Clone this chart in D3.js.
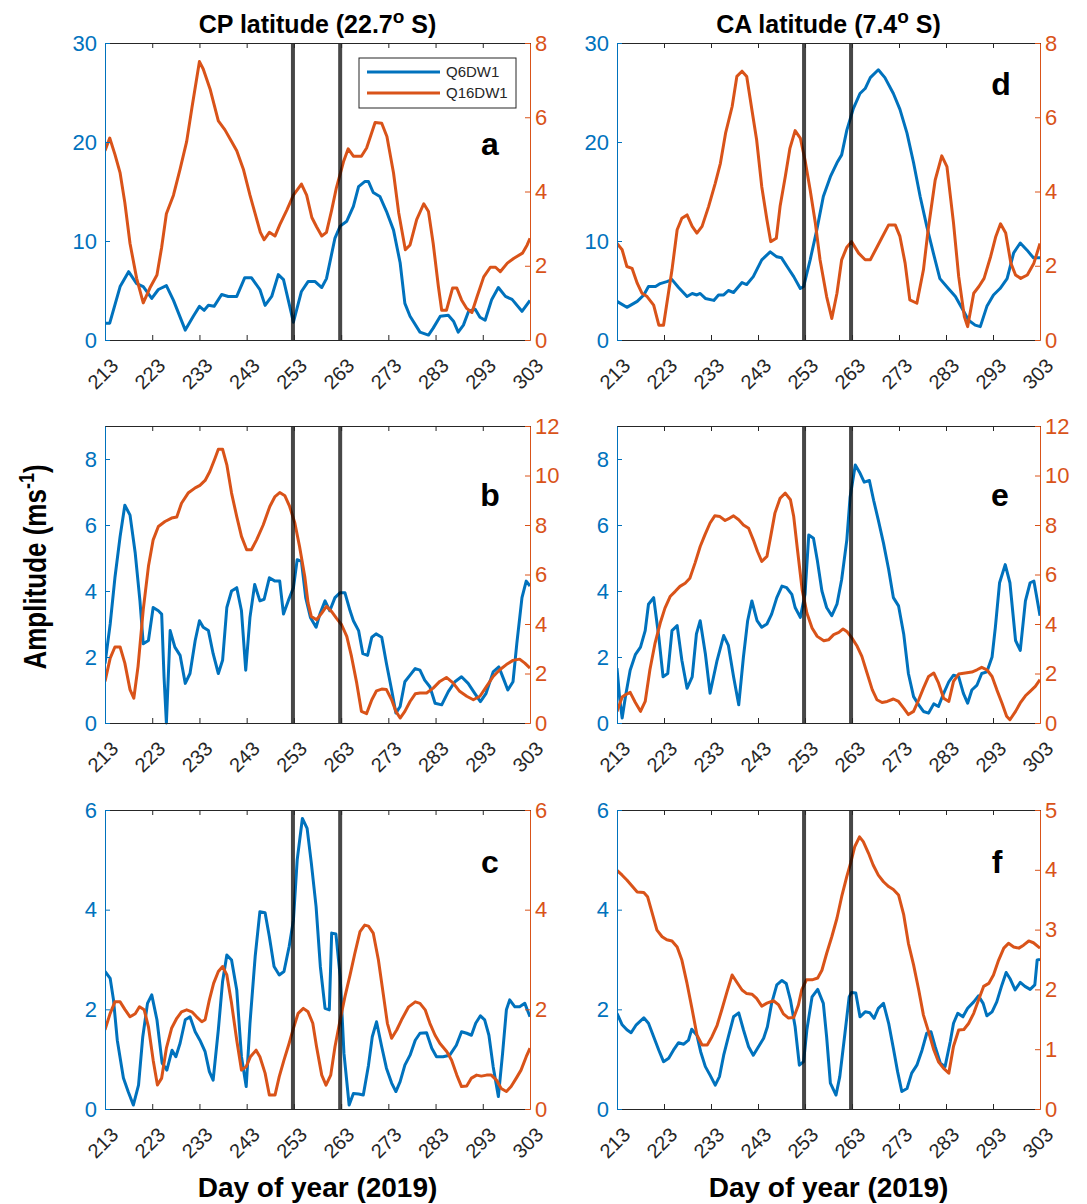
<!DOCTYPE html>
<html>
<head>
<meta charset="utf-8">
<script src="https://cdn.jsdelivr.net/npm/d3@7"></script>
<style>
  body { margin: 0; background: #fff; }
  text { font-family: "Liberation Sans", Arial, Helvetica, sans-serif; }
</style>
</head>
<body>
<svg id="chart"></svg>
<script>
/* CONSTANTS AND GLOBALS */
const width = 1087, height = 1204;
const BLUE = "#0072BD", ORANGE = "#D95319", AXIS = "#262626";

// tick labels and markers
const xTicks = [213, 223, 233, 243, 253, 263, 273, 283, 293, 303];
const eventDays = [252.8, 262.8];
const seriesNames = ["Q6DW1", "Q16DW1"];
const columnTitles = [["CP latitude (22.7", " S)"], ["CA latitude (7.4", " S)"]];

// [day, amplitude]
// panel a (CP, top)
const q6_a = [[213,1.7],[214,1.7],[216.2,5.4],[218,6.9],[219.7,5.7],[221.1,5.4],[222.9,4.2],[224.3,5.1],[226,5.5],[227.5,4.0],[230,1.0],[231.7,2.4],[233,3.4],[234,3.0],[234.9,3.5],[236.1,3.4],[237.7,4.6],[239.1,4.4],[240.9,4.4],[242.6,6.3],[244,6.3],[245.8,5.1],[246.9,3.5],[248.3,4.4],[249.7,6.6],[250.8,6.1],[252.9,1.8],[254.6,4.9],[256,5.9],[257.5,5.9],[258.9,5.3],[259.9,6.2],[261.7,10.3],[262.8,11.5],[264.2,12],[265.6,13.5],[266.7,15.5],[268,16.0],[268.8,16],[269.8,14.9],[271.2,14.5],[272.6,13],[274.1,11.1],[275.5,7.8],[276.5,3.7],[277.6,2.4],[279.7,0.8],[281.5,0.5],[282.5,1.2],[284,2.4],[285.7,2.5],[286.8,1.9],[287.8,0.8],[288.9,1.5],[290,2.9],[291.4,3.1],[292.4,2.3],[293.5,2.0],[294.9,4.1],[296.3,5.3],[297.8,4.4],[299.2,4.1],[301.3,2.9],[303,4.0]];
const q16_a = [[213,5.1],[214,5.44],[215.1,5.0],[216.2,4.5],[217.2,3.7],[218.3,2.6],[219.7,1.66],[221.1,1.0],[222.5,1.4],[224,1.75],[225,2.5],[226,3.4],[227.5,3.9],[228.9,4.6],[230.3,5.35],[231.4,6.25],[233,7.5],[233.8,7.3],[235.3,6.74],[237,5.9],[238.4,5.66],[239.8,5.35],[240.9,5.1],[242.3,4.6],[243.7,3.9],[245.9,2.9],[246.7,2.7],[247.8,2.9],[249,2.8],[250,3.1],[251.5,3.5],[252.9,3.9],[254.6,4.2],[255.7,3.9],[256.8,3.3],[257.8,3.05],[258.9,2.8],[259.9,2.9],[261,3.5],[262,4.1],[263.5,4.8],[264.5,5.15],[265.6,4.95],[267.3,4.95],[268.4,5.17],[270.2,5.86],[271.6,5.84],[272.7,5.48],[274.1,4.5],[275.2,3.42],[276.6,2.43],[277.6,2.56],[279,3.24],[280.5,3.67],[281.5,3.46],[282.5,2.6],[283.6,1.44],[284.3,0.8],[285.3,0.8],[286.6,1.4],[287.5,1.4],[288.5,1.08],[289.6,0.85],[290.7,0.74],[291.8,1.17],[293.2,1.7],[294.6,1.96],[295.7,1.96],[296.7,1.84],[298.2,2.07],[299.6,2.2],[301.4,2.34],[302.4,2.56],[303,2.74]];

// panel d (CA, top)
const q6_d = [[213,3.9],[215.1,3.3],[217.3,3.9],[218.7,4.55],[219.7,5.4],[221.2,5.4],[222.2,5.7],[223.6,5.9],[224.7,6.1],[226.1,5.3],[227.9,4.4],[229,4.7],[230,4.55],[230.7,4.7],[231.8,4.2],[233.6,4.0],[234.6,4.55],[235.7,4.55],[236.7,5.0],[237.8,4.8],[239.6,5.8],[240.6,5.6],[242,6.4],[243.8,8.1],[245.6,8.9],[247,8.4],[248,8.3],[249.5,7.2],[250.6,6.4],[252,5.2],[252.7,5.4],[254.1,8.1],[255.5,11.1],[256.9,14.5],[258.4,16.5],[259.8,17.9],[260.8,18.7],[261.9,21.2],[263.3,23.4],[264.7,24.9],[265.8,25.4],[266.9,26.5],[268.6,27.3],[270,26.5],[271.8,24.9],[273.2,23.3],[274.7,20.9],[276.1,17.9],[277.5,14.5],[278.9,11.5],[280.3,8.8],[281.7,6.2],[283.5,5.2],[285,4.4],[286.4,3.2],[287.8,2.0],[289.2,1.5],[290.3,1.35],[291.7,3.4],[293.1,4.55],[294.5,5.2],[296,6.2],[297.4,8.8],[298.8,9.8],[300.2,9.1],[301.6,8.3],[303,8.3]];
const q16_d = [[213,2.6],[214.1,2.43],[215.1,1.98],[216.2,1.93],[217.3,1.53],[218.3,1.26],[219.4,1.17],[220.8,0.94],[221.9,0.4],[222.9,0.4],[224.7,1.89],[225.8,2.97],[226.8,3.28],[227.9,3.37],[229,3.06],[230,2.88],[231.1,3.06],[232.5,3.6],[233.9,4.22],[235,4.76],[236.1,5.57],[237.5,6.29],[238.5,7.1],[239.6,7.24],[240.6,7.1],[241.7,6.2],[242.7,5.4],[243.8,4.13],[244.9,3.24],[245.7,2.65],[246.9,2.74],[247.7,3.6],[248.8,4.4],[249.8,5.17],[250.9,5.64],[252,5.44],[253,4.85],[254.1,4.04],[255.2,3.15],[256.2,2.16],[257.6,1.17],[258.7,0.58],[259.8,1.26],[260.8,2.16],[261.9,2.5],[262.9,2.65],[264.4,2.34],[265.8,2.16],[266.9,2.16],[268.3,2.5],[269.3,2.74],[270.8,3.1],[272.2,3.1],[273.2,2.79],[274.3,2.07],[275.3,1.08],[276.8,0.99],[278.2,1.89],[279.2,2.97],[280.7,4.31],[282.1,4.96],[283.2,4.67],[284.6,3.15],[285.7,1.71],[286.9,0.63],[287.6,0.36],[288.9,1.26],[290,1.44],[291.1,1.66],[292.5,2.25],[293.6,2.79],[294.6,3.13],[295.7,2.88],[296.8,2.07],[297.8,1.75],[298.9,1.66],[300.3,1.75],[301.7,2.07],[303,2.6]];

// panel b (CP, middle)
const q6_b = [[213,1.8],[214.1,3.0],[215.1,4.4],[216.2,5.65],[217.2,6.6],[218.3,6.3],[219.4,5.15],[220.4,3.7],[221.1,2.4],[222.2,2.5],[223.2,3.5],[224.3,3.4],[225,3.3],[225.5,1.4],[226,0],[226.8,2.8],[227.8,2.3],[228.9,2.05],[230,1.2],[231,1.5],[232.1,2.5],[233,3.1],[233.8,2.9],[234.9,2.8],[235.9,2.1],[237,1.5],[237.9,1.9],[238.8,3.5],[239.8,4.0],[240.9,4.1],[241.9,3.4],[242.8,1.6],[243.7,3.2],[244.7,4.2],[245.8,3.7],[246.7,3.75],[247.8,4.4],[249,4.3],[250,4.3],[250.8,3.3],[251.8,3.7],[252.9,4.1],[253.7,4.95],[254.6,4.9],[255.5,3.8],[256.5,3.2],[257.7,2.9],[258.5,3.3],[259.6,3.7],[260.6,3.4],[261.7,3.8],[262.8,3.95],[263.8,3.95],[264.9,3.4],[265.6,3.1],[266.7,2.8],[267.6,2.1],[268.6,2.05],[269.5,2.6],[270.4,2.7],[271.6,2.6],[272.6,1.8],[273.7,1.0],[274.6,0.3],[275.5,0.5],[276.5,1.25],[277.6,1.45],[278.7,1.65],[279.7,1.6],[280.7,1.3],[281.8,1.1],[282.9,0.6],[284.3,0.55],[285.7,0.95],[287.1,1.25],[288.5,1.4],[289.9,1.2],[291.3,0.9],[292.5,0.65],[293.7,0.9],[295.2,1.55],[296.4,1.7],[297.5,1.3],[298.3,1.0],[299.4,1.25],[300.2,2.4],[301.3,3.8],[302.2,4.3],[303,4.15]];
const q16_b = [[213,1.68],[214.1,2.62],[215.1,3.07],[216.2,3.07],[217.2,2.42],[218.3,1.35],[219.1,1.0],[220,2.29],[221.1,4.58],[222.2,6.33],[223.2,7.4],[224.3,7.94],[225.7,8.14],[227.1,8.28],[228.2,8.32],[229.2,8.88],[230.6,9.29],[232.1,9.5],[233.1,9.6],[234.2,9.8],[235.2,10.16],[236.3,10.7],[237,11.06],[237.9,11.06],[238.8,10.43],[239.8,9.29],[240.9,8.34],[241.9,7.54],[243,7.0],[244,7.0],[245.1,7.4],[246.5,8.0],[247.9,8.75],[249,9.15],[250,9.31],[251.1,9.18],[252.1,8.75],[253.2,8.08],[254.2,7.13],[255.3,5.92],[256,4.85],[256.7,4.3],[257.8,4.17],[258.9,4.44],[259.9,4.71],[261,4.5],[262,4.24],[263.1,3.97],[264.2,3.5],[265.2,2.69],[266.3,1.62],[267.3,0.47],[268.4,0.38],[269.5,0.94],[270.5,1.3],[271.6,1.37],[272.6,1.35],[273.7,0.94],[274.6,0.47],[275.5,0.2],[276.5,0.47],[277.6,0.87],[278.7,1.18],[279.7,1.21],[281.1,1.21],[282.5,1.41],[283.9,1.68],[285.3,1.84],[286.7,1.62],[288.1,1.28],[289.6,1.08],[291,0.94],[292.4,1.08],[293.8,1.48],[295.2,1.88],[296.6,2.15],[298,2.36],[299.4,2.53],[300.8,2.58],[301.9,2.42],[303,2.22]];

// panel e (CA, middle)
const q6_e = [[213,1.66],[213.6,0.7],[214.1,0.15],[214.8,0.8],[215.8,1.6],[216.9,2.07],[218,2.3],[219,2.8],[219.7,3.6],[220.8,3.8],[221.9,2.6],[222.8,1.4],[223.8,1.5],[224.7,2.8],[225.8,2.95],[226.8,1.9],[227.9,1.05],[229,1.4],[229.9,2.7],[230.7,3.1],[231.8,2.1],[232.8,0.9],[234.3,1.9],[235.7,2.65],[236.7,2.35],[237.8,1.4],[238.9,0.55],[239.9,2.0],[240.8,3.1],[241.7,3.7],[242.8,3.1],[243.8,2.9],[244.9,3.0],[245.9,3.3],[247,3.8],[248.1,4.15],[249.1,4.1],[250.2,3.9],[250.9,3.5],[252,3.2],[253,3.9],[253.8,5.7],[254.8,5.6],[255.6,4.95],[256.6,4.0],[257.6,3.5],[258.7,3.25],[259.8,3.6],[260.8,4.35],[261.9,5.55],[262.6,6.85],[263.7,7.82],[264.6,7.6],[265.6,7.3],[266.7,7.35],[267.6,6.75],[268.6,6.15],[269.7,5.45],[270.8,4.65],[271.8,3.8],[272.9,3.55],[274,2.7],[275,1.5],[276.1,0.8],[277.2,0.55],[278.2,0.35],[279.3,0.3],[280.4,0.58],[281.4,0.5],[282.5,0.9],[283.6,1.25],[284.6,1.45],[285.7,1.4],[286.7,0.9],[287.6,0.6],[288.5,1.0],[289.6,1.15],[290.6,1.5],[291.7,1.55],[292.8,2.0],[293.5,2.9],[294.4,4.25],[295.6,4.8],[296.6,4.25],[297.8,2.5],[298.8,2.2],[299.9,3.7],[300.9,4.25],[301.7,4.3],[303,3.25]];
const q16_e = [[213,0.47],[214.1,1.05],[214.8,1.14],[215.8,1.24],[216.9,0.83],[218,0.47],[219,0.87],[220,2.15],[221.1,3.23],[222.2,4.04],[223.2,4.64],[224.3,5.11],[225.4,5.32],[226.4,5.52],[227.5,5.65],[228.5,5.85],[229.6,6.46],[230.7,7.13],[231.7,7.6],[232.8,8.08],[233.8,8.37],[234.9,8.34],[236,8.18],[237,8.28],[237.8,8.37],[238.9,8.21],[239.9,8.0],[241,7.87],[242,7.4],[242.9,6.93],[243.8,6.53],[244.9,6.73],[245.7,7.54],[246.6,8.48],[247.7,9.08],[248.8,9.29],[249.9,9.02],[250.6,8.34],[251.4,7.0],[252.4,5.38],[253.4,4.44],[254.5,3.84],[255.6,3.5],[257,3.32],[258,3.36],[259.1,3.57],[260.2,3.66],[261.1,3.8],[261.9,3.7],[263,3.43],[264.1,3.1],[265.1,2.69],[266.2,2.02],[267.3,1.35],[268.3,0.94],[269.4,0.83],[270.5,0.87],[271.8,0.97],[272.9,0.87],[274,0.6],[275,0.34],[276.1,0.47],[277.2,0.94],[278.2,1.41],[279.3,1.88],[280.4,2.02],[281.4,1.62],[282.5,1.0],[283.6,0.87],[284.6,1.68],[285.7,1.98],[287.1,2.02],[288.5,2.06],[289.6,2.15],[290.6,2.25],[291.7,2.15],[292.8,1.88],[293.8,1.35],[294.9,0.81],[295.9,0.27],[296.6,0.13],[297.8,0.47],[298.8,0.81],[299.9,1.1],[300.9,1.28],[302,1.48],[303,1.75]];

// panel c (CP, bottom)
const q6_c = [[213,2.76],[214.1,2.62],[214.8,2.19],[215.6,1.38],[216.9,0.62],[217.9,0.35],[219,0.08],[220.1,0.48],[221,1.45],[222,2.12],[222.9,2.29],[224,1.79],[225.1,0.92],[226.1,0.78],[227.2,1.18],[228,1.05],[228.9,1.32],[230,1.79],[231,1.85],[232.1,1.55],[233.1,1.38],[234.2,1.15],[235.1,0.75],[235.9,0.58],[237,1.59],[237.9,2.56],[238.8,3.09],[239.8,2.99],[240.9,2.39],[241.9,1.05],[242.9,0.45],[243.7,1.72],[244.8,3.06],[245.8,3.96],[246.9,3.94],[247.8,3.46],[248.8,2.86],[249.9,2.69],[250.9,2.76],[252,3.26],[252.9,3.79],[253.7,5.0],[254.8,5.83],[255.8,5.63],[256.7,4.93],[257.7,4.06],[258.6,2.86],[259.6,2.02],[260.5,1.99],[261,3.53],[261.9,3.51],[262.8,2.66],[263.6,1.12],[264.7,0.08],[265.6,0.31],[266.7,0.3],[267.7,0.28],[268.8,0.88],[269.6,1.45],[270.5,1.75],[271.6,1.25],[272.6,0.82],[273.7,0.52],[274.6,0.35],[275.5,0.55],[276.5,0.88],[277.6,1.08],[278.7,1.38],[279.7,1.52],[281.1,1.53],[282.2,1.22],[283.2,1.05],[284.6,1.05],[286,1.08],[287.4,1.28],[288.5,1.55],[289.6,1.52],[290.6,1.48],[291.5,1.72],[292.5,1.87],[293.4,1.79],[294.3,1.48],[295.2,0.85],[296.3,0.25],[297.2,1.12],[298,1.99],[298.7,2.19],[299.8,2.05],[300.8,2.05],[301.9,2.12],[303,1.85]];
const q16_c = [[213,1.59],[214.1,1.92],[215.1,2.15],[216.2,2.15],[217.2,2.0],[218.3,1.85],[219.4,1.91],[220.3,2.05],[221.3,1.99],[222.2,1.65],[223.2,0.98],[224.1,0.48],[225,0.62],[226,1.22],[227.1,1.62],[228.2,1.82],[229.2,1.95],[230.3,1.99],[231.4,1.95],[232.4,1.85],[233.5,1.75],[234.2,1.79],[235.1,2.19],[236,2.52],[237,2.76],[237.9,2.86],[238.8,2.69],[239.8,2.12],[240.9,1.38],[241.9,0.78],[242.9,0.85],[243.8,1.05],[245,1.18],[245.8,1.05],[246.9,0.72],[247.8,0.28],[249,0.28],[249.9,0.65],[250.9,0.98],[252,1.32],[252.9,1.62],[253.9,1.92],[255,2.02],[256,1.95],[257,1.72],[257.8,1.25],[258.9,0.68],[259.8,0.48],[260.8,0.68],[261.7,1.25],[262.8,1.79],[263.8,2.25],[264.9,2.69],[265.9,3.12],[267,3.56],[268,3.69],[268.8,3.67],[269.8,3.53],[270.9,2.99],[271.8,2.39],[272.8,1.72],[273.7,1.42],[274.8,1.59],[275.8,1.79],[277.3,2.05],[278.7,2.15],[279.7,2.12],[280.8,1.99],[281.8,1.72],[282.9,1.48],[283.9,1.32],[285.4,1.15],[286.4,0.98],[287.5,0.68],[288.5,0.45],[289.6,0.46],[290.6,0.62],[291.7,0.68],[292.7,0.66],[293.8,0.68],[294.8,0.68],[295.9,0.58],[296.9,0.41],[298,0.35],[299,0.45],[300.1,0.62],[301.1,0.78],[302.2,1.05],[303,1.22]];

// panel f (CA, bottom)
const q6_f = [[213,1.92],[214.1,1.69],[215.1,1.59],[216,1.53],[217.1,1.69],[218.7,1.83],[219.7,1.72],[220.8,1.45],[221.9,1.18],[222.9,0.95],[224,1.02],[225,1.18],[226.1,1.33],[227.2,1.3],[228.2,1.38],[228.9,1.6],[230,1.48],[230.8,1.15],[231.8,0.85],[232.8,0.68],[233.9,0.48],[234.8,0.65],[235.7,1.08],[236.7,1.45],[237.8,1.85],[238.9,1.93],[239.9,1.59],[241,1.25],[242,1.08],[243.1,1.25],[244.2,1.42],[245,1.65],[245.9,2.12],[247,2.49],[248.1,2.58],[249,2.52],[249.9,2.19],[250.9,1.65],[251.8,0.88],[252.7,0.95],[253.4,1.59],[254.5,2.25],[255.7,2.4],[256.9,2.12],[257.6,1.45],[258.4,0.52],[259.6,0.28],[260.4,0.65],[261.5,1.52],[262.4,2.25],[262.9,2.34],[263.8,2.33],[264.7,1.85],[265.8,1.95],[266.8,1.93],[267.7,1.82],[268.6,2.02],[269.7,2.12],[270.8,1.72],[271.8,1.22],[272.7,0.75],[273.6,0.35],[274.7,0.41],[275.7,0.72],[276.8,0.88],[277.9,1.18],[278.9,1.52],[279.8,1.55],[280.7,1.25],[281.8,0.92],[282.8,0.85],[283.9,1.35],[284.6,1.72],[285.5,1.92],[286.6,1.85],[287.6,2.02],[288.9,2.15],[289.9,2.27],[290.9,2.12],[291.7,1.87],[292.8,1.95],[293.8,2.15],[294.9,2.49],[295.8,2.74],[296.6,2.62],[297.7,2.39],[298.8,2.54],[299.8,2.46],[300.9,2.4],[301.9,2.49],[302.4,2.99],[303,3.0]];
const q16_f = [[213,3.99],[214.1,3.91],[215.1,3.83],[216.2,3.73],[217.3,3.63],[218.7,3.62],[219.5,3.55],[220.4,3.3],[221.5,2.99],[222.6,2.88],[223.6,2.83],[224.7,2.81],[225.8,2.71],[226.8,2.49],[227.9,2.1],[229,1.66],[230,1.24],[231.1,1.07],[232.2,1.07],[233.2,1.21],[234.3,1.4],[235.3,1.66],[236.4,1.96],[237.5,2.24],[238.5,2.12],[239.6,1.99],[240.6,1.93],[241.7,1.92],[242.7,1.85],[243.8,1.72],[244.9,1.77],[246.3,1.81],[247.4,1.74],[248.4,1.59],[249.5,1.52],[250.6,1.53],[251.6,1.74],[252.3,1.99],[253.3,2.16],[254.5,2.16],[255.7,2.19],[256.6,2.32],[257.6,2.6],[258.7,2.88],[259.8,3.19],[260.8,3.55],[261.9,3.89],[262.7,4.11],[263.6,4.39],[264.6,4.55],[265.4,4.47],[266.5,4.28],[267.5,4.08],[268.6,3.91],[269.7,3.8],[270.8,3.72],[271.8,3.67],[272.9,3.58],[274,3.25],[275,2.77],[276.1,2.41],[277.2,1.99],[278.2,1.57],[279.3,1.29],[280.4,0.99],[281.4,0.79],[282.5,0.68],[283.6,0.6],[284.6,1.05],[285.7,1.32],[286.8,1.33],[287.8,1.43],[288.9,1.6],[289.9,1.82],[291,2.05],[292.1,2.1],[293.1,2.24],[294.2,2.49],[295.3,2.69],[296.3,2.77],[297.4,2.71],[298.5,2.69],[299.5,2.74],[300.6,2.81],[301.6,2.78],[303,2.69]];

// layout of the six axes
const cols = [{ x0: 105, x1: 530 }, { x0: 617, x1: 1040 }];
const rows = [{ y0: 43, y1: 340 }, { y0: 426, y1: 723 }, { y0: 810, y1: 1109 }];

const panels = [
  { id: "a", col: 0, row: 0, blue: q6_a, orange: q16_a, yL: [0, 30], yR: [0, 8], tL: [0, 10, 20, 30], tR: [0, 2, 4, 6, 8], lx: 490, ly: 155, legend: true },
  { id: "b", col: 0, row: 1, blue: q6_b, orange: q16_b, yL: [0, 9], yR: [0, 12], tL: [0, 2, 4, 6, 8], tR: [0, 2, 4, 6, 8, 10, 12], lx: 490, ly: 506 },
  { id: "c", col: 0, row: 2, blue: q6_c, orange: q16_c, yL: [0, 6], yR: [0, 6], tL: [0, 2, 4, 6], tR: [0, 2, 4, 6], lx: 490, ly: 873 },
  { id: "d", col: 1, row: 0, blue: q6_d, orange: q16_d, yL: [0, 30], yR: [0, 8], tL: [0, 10, 20, 30], tR: [0, 2, 4, 6, 8], lx: 1001, ly: 95 },
  { id: "e", col: 1, row: 1, blue: q6_e, orange: q16_e, yL: [0, 9], yR: [0, 12], tL: [0, 2, 4, 6, 8], tR: [0, 2, 4, 6, 8, 10, 12], lx: 1000, ly: 506 },
  { id: "f", col: 1, row: 2, blue: q6_f, orange: q16_f, yL: [0, 6], yR: [0, 5], tL: [0, 2, 4, 6], tR: [0, 1, 2, 3, 4, 5], lx: 997, ly: 873 }
];

const svg = d3.select("#chart")
  .attr("width", width)
  .attr("height", height);

svg.append("rect").attr("width", width).attr("height", height).attr("fill", "#fff");

const defs = svg.append("defs");
const fmt = d3.format("d");

panels.forEach(p => {
  const c = cols[p.col], r = rows[p.row];
  const x = d3.scaleLinear().domain([213, 303]).range([c.x0, c.x1]);
  const yL = d3.scaleLinear().domain(p.yL).range([r.y1, r.y0]);
  const yR = d3.scaleLinear().domain(p.yR).range([r.y1, r.y0]);

  defs.append("clipPath").attr("id", "clip-" + p.id)
    .append("rect")
    .attr("x", c.x0).attr("y", r.y0 - 2)
    .attr("width", c.x1 - c.x0).attr("height", r.y1 - r.y0 + 4);

  const g = svg.append("g").attr("clip-path", `url(#clip-${p.id})`);

  // the two series
  g.append("path")
    .datum(p.blue)
    .attr("d", d3.line().x(d => x(d[0])).y(d => yL(d[1])))
    .attr("fill", "none").attr("stroke", BLUE)
    .attr("stroke-width", 3).attr("stroke-linejoin", "round");

  g.append("path")
    .datum(p.orange)
    .attr("d", d3.line().x(d => x(d[0])).y(d => yR(d[1])))
    .attr("fill", "none").attr("stroke", ORANGE)
    .attr("stroke-width", 3).attr("stroke-linejoin", "round");

  // event markers
  g.selectAll("line.ev")
    .data(eventDays)
    .join("line")
    .attr("class", "ev")
    .attr("x1", d => x(d)).attr("x2", d => x(d))
    .attr("y1", r.y0).attr("y2", r.y1)
    .attr("stroke", "#000").attr("stroke-opacity", 0.72)
    .attr("stroke-width", 4);

  // bottom axis with rotated labels
  const bottom = svg.append("g")
    .attr("transform", `translate(0,${r.y1})`)
    .call(d3.axisBottom(x).tickValues(xTicks).tickSizeInner(-5).tickSizeOuter(0).tickFormat(fmt));
  bottom.select(".domain").attr("stroke", AXIS);
  bottom.selectAll(".tick line").attr("stroke", AXIS);
  bottom.selectAll(".tick text")
    .attr("x", 0).attr("y", 0).attr("dy", 0)
    .attr("text-anchor", "end")
    .attr("transform", "translate(14,27) rotate(-45)")
    .attr("fill", AXIS)
    .attr("font-size", 20);
  bottom.attr("font-family", null);

  // top axis (box edge)
  const top = svg.append("g")
    .attr("transform", `translate(0,${r.y0})`)
    .call(d3.axisTop(x).tickValues(xTicks).tickSizeInner(-5).tickSizeOuter(0).tickFormat(""));
  top.select(".domain").attr("stroke", AXIS);
  top.selectAll(".tick line").attr("stroke", AXIS);

  // left axis (Q6DW1)
  const left = svg.append("g")
    .attr("transform", `translate(${c.x0},0)`)
    .call(d3.axisLeft(yL).tickValues(p.tL).tickSizeInner(-5).tickSizeOuter(0).tickPadding(8).tickFormat(fmt));
  left.select(".domain").attr("stroke", BLUE);
  left.selectAll(".tick line").attr("stroke", BLUE);
  left.selectAll(".tick text").attr("fill", BLUE).attr("font-size", 22);
  left.attr("font-family", null);

  // right axis (Q16DW1)
  const right = svg.append("g")
    .attr("transform", `translate(${c.x1},0)`)
    .call(d3.axisRight(yR).tickValues(p.tR).tickSizeInner(-5).tickSizeOuter(0).tickPadding(5).tickFormat(fmt));
  right.select(".domain").attr("stroke", ORANGE);
  right.selectAll(".tick line").attr("stroke", ORANGE);
  right.selectAll(".tick text").attr("fill", ORANGE).attr("font-size", 22);
  right.attr("font-family", null);

  // panel letter
  svg.append("text")
    .attr("x", p.lx).attr("y", p.ly)
    .attr("text-anchor", "middle")
    .attr("font-size", 32).attr("font-weight", "bold")
    .attr("fill", "#000")
    .text(p.id);

  if (p.legend) {
    const lg = svg.append("g").attr("transform", "translate(359,58)");
    lg.append("rect")
      .attr("width", 157).attr("height", 50)
      .attr("fill", "#fff").attr("stroke", AXIS).attr("stroke-width", 1);
    [BLUE, ORANGE].forEach((col, i) => {
      lg.append("line")
        .attr("x1", 8).attr("x2", 81)
        .attr("y1", 14 + i * 21).attr("y2", 14 + i * 21)
        .attr("stroke", col).attr("stroke-width", 3);
      lg.append("text")
        .attr("x", 87).attr("y", 14 + i * 21)
        .attr("dy", "0.36em")
        .attr("font-size", 15).attr("fill", AXIS)
        .text(seriesNames[i]);
    });
  }
});

// column titles with degree superscript
cols.forEach((c, i) => {
  const t = svg.append("text")
    .attr("x", (c.x0 + c.x1) / 2).attr("y", 33)
    .attr("text-anchor", "middle")
    .attr("font-size", 25).attr("font-weight", "bold")
    .attr("fill", "#000");
  t.append("tspan").text(columnTitles[i][0]);
  t.append("tspan").attr("dy", -10).attr("font-size", 19).text("o");
  t.append("tspan").attr("dy", 10).text(columnTitles[i][1]);

  svg.append("text")
    .attr("x", (c.x0 + c.x1) / 2).attr("y", 1197)
    .attr("text-anchor", "middle")
    .attr("font-size", 28).attr("font-weight", "bold")
    .attr("fill", "#000")
    .text("Day of year (2019)");
});

// shared y label
const yl = svg.append("text")
  .attr("transform", "translate(46,567) rotate(-90) scale(1,1.18)")
  .attr("text-anchor", "middle")
  .attr("font-size", 26).attr("font-weight", "bold")
  .attr("fill", "#000");
yl.append("tspan").text("Amplitude (ms");
yl.append("tspan").attr("dy", -10).attr("font-size", 18).text("-1");
yl.append("tspan").attr("dy", 10).text(")");
</script>
</body>
</html>
